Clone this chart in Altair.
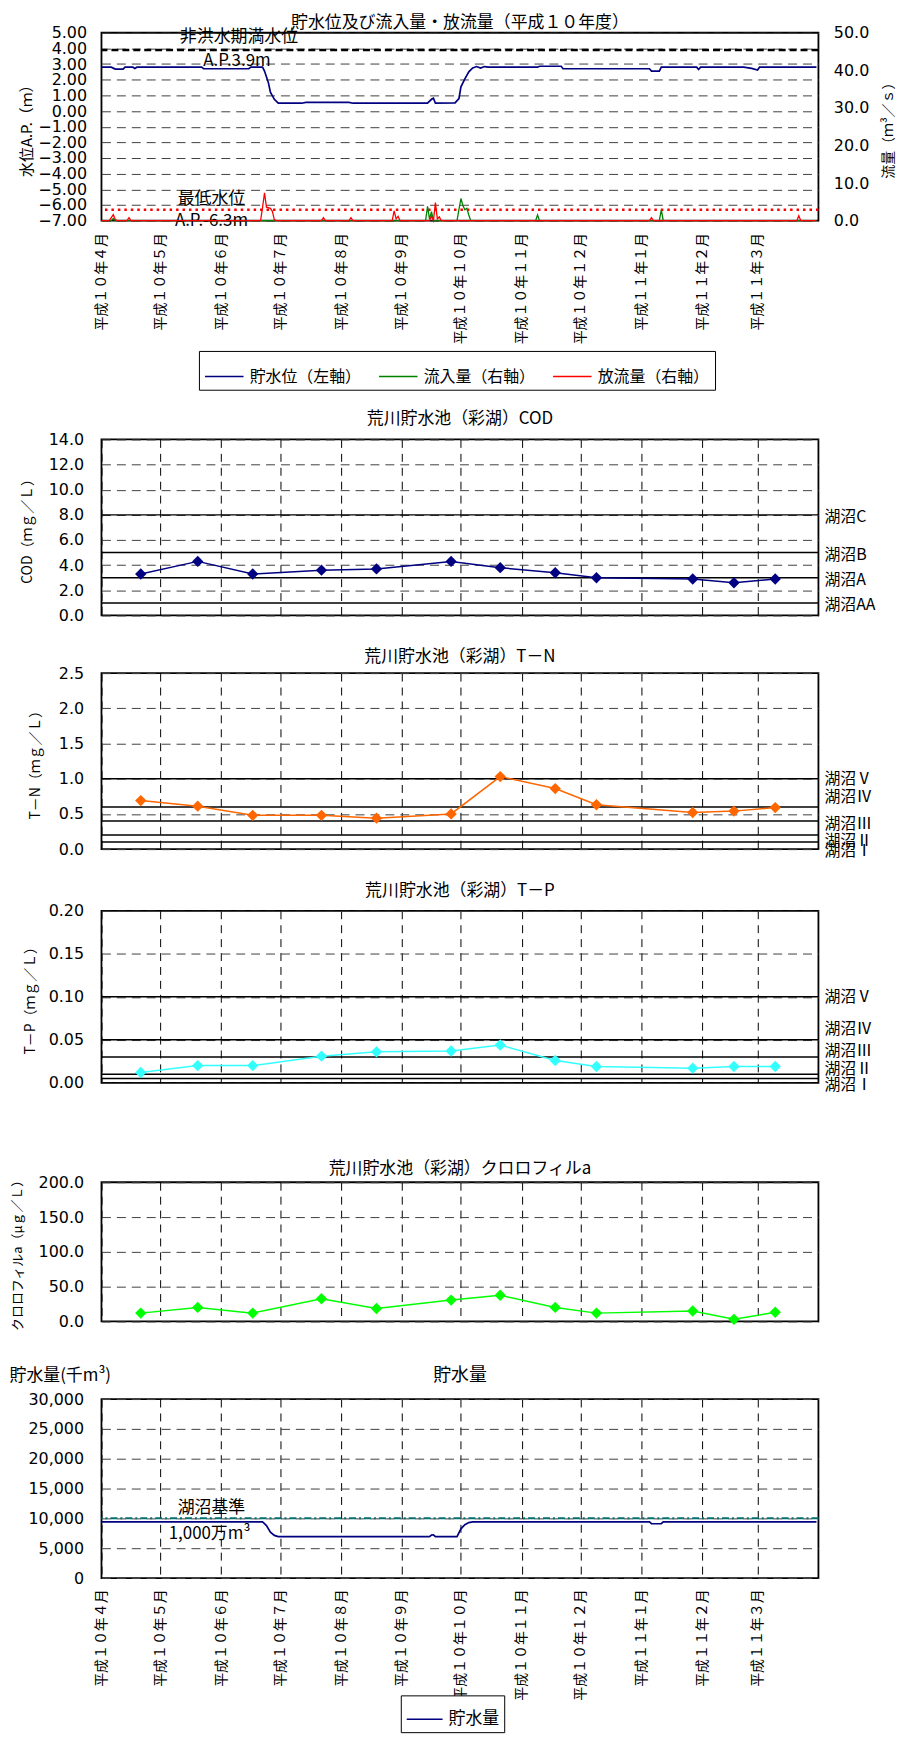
import altair as alt
import pandas as pd

FONT = "Noto Sans CJK JP"
NUM = "DejaVu Sans"

# ---------------- data ----------------
START = "1998-04-01"
MONTH_STARTS = ["1998-04-01", "1998-05-01", "1998-06-01", "1998-07-01", "1998-08-01", "1998-09-01",
                "1998-10-01", "1998-11-01", "1998-12-01", "1999-01-01", "1999-02-01", "1999-03-01"]
MONTH_LABELS = ["平成１０年４月", "平成１０年５月", "平成１０年６月", "平成１０年７月", "平成１０年８月",
                "平成１０年９月", "平成１０年１０月", "平成１０年１１月", "平成１０年１２月",
                "平成１１年１月", "平成１１年２月", "平成１１年３月"]

# water level (A.P. m)
WATER_LEVEL = [
    ("1998-04-01", 2.80), ("1998-04-06", 2.80), ("1998-04-08", 2.68), ("1998-04-12", 2.68),
    ("1998-04-13", 2.80), ("1998-04-17", 2.80), ("1998-04-18", 2.72), ("1998-04-19", 2.80),
    ("1998-05-22", 2.80), ("1998-05-23", 2.70), ("1998-06-15", 2.70), ("1998-06-16", 2.80),
    ("1998-06-22", 2.80), ("1998-06-23", 2.55), ("1998-06-25", 1.80), ("1998-06-26", 1.20),
    ("1998-06-28", 0.75), ("1998-06-30", 0.50), ("1998-07-12", 0.50), ("1998-07-14", 0.55),
    ("1998-08-05", 0.55), ("1998-08-07", 0.50), ("1998-09-14", 0.50), ("1998-09-16", 0.75),
    ("1998-09-17", 0.82), ("1998-09-18", 0.50), ("1998-09-28", 0.52), ("1998-09-30", 0.80),
    ("1998-10-01", 1.55), ("1998-10-03", 2.05), ("1998-10-05", 2.50), ("1998-10-07", 2.75),
    ("1998-10-09", 2.84), ("1998-10-11", 2.74), ("1998-10-13", 2.84), ("1998-10-15", 2.80),
    ("1998-11-09", 2.80), ("1998-11-10", 2.86), ("1998-11-21", 2.86), ("1998-11-22", 2.70),
    ("1999-01-05", 2.70), ("1999-01-06", 2.55), ("1999-01-10", 2.55), ("1999-01-11", 2.80),
    ("1999-01-29", 2.80), ("1999-01-30", 2.65), ("1999-01-31", 2.80), ("1999-02-22", 2.80),
    ("1999-02-26", 2.72), ("1999-03-01", 2.62), ("1999-03-02", 2.80), ("1999-03-31", 2.80),
]
# inflow (m3/s)
INFLOW = [
    ("1998-04-01", 0), ("1998-04-06", 0), ("1998-04-07", 0.6), ("1998-04-08", 0),
    ("1998-09-13", 0), ("1998-09-14", 3.8), ("1998-09-15", 0.4), ("1998-09-16", 2.4),
    ("1998-09-17", 0), ("1998-09-29", 0), ("1998-09-30", 3.0), ("1998-10-01", 5.9),
    ("1998-10-02", 4.0), ("1998-10-03", 2.9), ("1998-10-04", 3.3), ("1998-10-05", 1.5),
    ("1998-10-06", 0), ("1998-11-08", 0), ("1998-11-09", 1.5), ("1998-11-10", 0),
    ("1999-01-10", 0), ("1999-01-11", 2.9), ("1999-01-12", 0), ("1999-03-31", 0),
]
# outflow (m3/s)
OUTFLOW = [
    ("1998-04-01", 0), ("1998-04-05", 0), ("1998-04-07", 1.6), ("1998-04-08", 0.4),
    ("1998-04-09", 0), ("1998-04-14", 0), ("1998-04-15", 0.8), ("1998-04-16", 0),
    ("1998-06-21", 0), ("1998-06-22", 3.5), ("1998-06-23", 7.4), ("1998-06-24", 3.6),
    ("1998-06-26", 3.3), ("1998-06-27", 2.5), ("1998-06-28", 0.3), ("1998-06-29", 0),
    ("1998-07-22", 0), ("1998-07-23", 0.8), ("1998-07-24", 0), ("1998-08-05", 0),
    ("1998-08-06", 0.8), ("1998-08-07", 0), ("1998-08-27", 0), ("1998-08-28", 2.6),
    ("1998-08-29", 0.5), ("1998-08-30", 1.2), ("1998-08-31", 0), ("1998-09-15", 0),
    ("1998-09-16", 1.2), ("1998-09-17", 0), ("1998-09-18", 4.8), ("1998-09-19", 0.5),
    ("1998-09-20", 1.0), ("1998-09-21", 0), ("1999-01-05", 0), ("1999-01-06", 0.8),
    ("1999-01-07", 0), ("1999-03-21", 0), ("1999-03-22", 1.3), ("1999-03-23", 0),
    ("1999-03-31", 0),
]
# storage (thousand m3)
STORAGE = [
    ("1998-04-01", 9400), ("1998-06-22", 9400), ("1998-06-24", 8800), ("1998-06-26", 7700),
    ("1998-06-28", 7150), ("1998-06-30", 6950), ("1998-09-15", 6950), ("1998-09-16", 7200),
    ("1998-09-17", 7250), ("1998-09-18", 6950), ("1998-09-29", 6950), ("1998-10-01", 8250),
    ("1998-10-03", 8950), ("1998-10-05", 9300), ("1998-10-07", 9400), ("1999-01-05", 9400),
    ("1999-01-06", 9100), ("1999-01-11", 9100), ("1999-01-12", 9400), ("1999-03-31", 9400),
]

SAMPLE_DATES = ["1998-04-21", "1998-05-20", "1998-06-17", "1998-07-22", "1998-08-19", "1998-09-26",
                "1998-10-21", "1998-11-18", "1998-12-09", "1999-01-27", "1999-02-17", "1999-03-10"]
COD = [3.3, 4.3, 3.3, 3.6, 3.7, 4.3, 3.8, 3.4, 3.0, 2.9, 2.6, 2.9]
TN = [0.69, 0.61, 0.48, 0.48, 0.44, 0.50, 1.03, 0.86, 0.63, 0.52, 0.54, 0.59]
TP = [0.012, 0.020, 0.020, 0.031, 0.036, 0.037, 0.044, 0.026, 0.019, 0.017, 0.019, 0.019]
CHLA = [12.0, 20.2, 12.0, 32.6, 18.6, 30.7, 37.7, 20.2, 12.0, 15.1, 3.1, 13.2]

FULL_LEVEL = 3.9
MIN_LEVEL = -6.3
LEVEL_NOTES = ["非洪水期満水位", "A.P.3.9m", "最低水位", "A.P.-6.3m"]
LEVEL_NOTE_DATES = ["1998-06-10", "1998-06-09", "1998-05-27", "1998-05-27"]
LEVEL_NOTE_Y = [4.72, 3.20, -5.60, -7.03]

COD_STD = [8.0, 5.0, 3.0, 1.0]
COD_STD_LABELS = ["湖沼C", "湖沼B", "湖沼A", "湖沼AA"]
COD_LABEL_Y = [7.85, 4.8, 2.85, 0.85]
TN_STD = [1.0, 0.6, 0.4, 0.2, 0.1]
TN_STD_LABELS = ["湖沼Ⅴ", "湖沼Ⅳ", "湖沼Ⅲ", "湖沼Ⅱ", "湖沼Ⅰ"]
TN_LABEL_Y = [1.0, 0.74, 0.36, 0.12, -0.02]
TP_STD = [0.1, 0.05, 0.03, 0.01, 0.005]
TP_STD_LABELS = ["湖沼Ⅴ", "湖沼Ⅳ", "湖沼Ⅲ", "湖沼Ⅱ", "湖沼Ⅰ"]
TP_LABEL_Y = [0.1, 0.062, 0.037, 0.016, -0.002]

LAKE_STD = 10000
STORAGE_NOTES = ["湖沼基準", "1,000万m³"]
STORAGE_NOTE_DATES = ["1998-05-27", "1998-05-26"]
STORAGE_NOTE_Y = [11670, 7420]

LEG1 = ["貯水位（左軸）", "流入量（右軸）", "放流量（右軸）"]
COL1 = ["#000080", "#008000", "#FF0000"]
LEG6 = ["貯水量"]

# ---------------- layout ----------------
W = 721
H1, H2, H3, H4, H5, H6 = 189, 177, 177, 173, 140, 180
GAPS = [220, 58, 62, 100, 78]
VIEW = alt.ViewBackground(stroke="black", strokeWidth=1.8)


def days(dates):
    s = pd.to_datetime(pd.Series(list(dates)))
    return (s - pd.Timestamp(START)).dt.days.tolist()


MONTH_DAYS = days(MONTH_STARTS)
LABEL_EXPR = ("[" + ",".join("'%s'" % s for s in MONTH_LABELS) + "][indexof(["
              + ",".join(str(d) for d in MONTH_DAYS) + "], datum.value)]")
XS = alt.Scale(domain=[0, 365], nice=False, zero=False)


def x_enc(labels, grid, pad=12):
    kw = dict(values=MONTH_DAYS, ticks=False, tickSize=0, domain=False, title=None,
              grid=grid, labels=labels)
    if grid:
        kw.update(gridDash=[8, 6], gridColor="#000000", gridWidth=1)
    if labels:
        kw.update(labelExpr=LABEL_EXPR, labelAngle=270, labelFont=FONT, labelFontSize=14,
                  labelPadding=pad, labelOverlap=False, labelFlush=False, labelBound=False,
                  labelColor="black", labelLimit=0)
    return alt.X("d:Q", scale=XS, axis=alt.Axis(**kw))


def y_axis(values, fmt, title, title_x, height, title_size=14, label_pad=18, **extra):
    kw = dict(values=values, format=fmt, title=title, ticks=False, tickSize=0, domain=False,
              grid=True, gridDash=[9, 6], gridColor="#404040", gridWidth=1,
              labelFont=NUM, labelFontSize=16, labelColor="black", labelPadding=label_pad,
              labelOverlap=False, labelFlush=False, labelBound=False,
              titleFont=FONT, titleFontSize=title_size, titleFontWeight="normal",
              titleColor="black", titleAngle=270, titleBaseline="middle", titleAlign="center",
              titleX=title_x, titleY=height / 2)
    kw.update(extra)
    return alt.Axis(**kw)


def title(text, offset, size=17):
    return alt.TitleParams(text=text, font=FONT, fontSize=size, fontWeight="normal", color="black",
                           anchor="middle", frame="group", baseline="middle", offset=offset)


# ---------------- panel 1: water level and flows ----------------
x1 = x_enc(True, False, pad=12)
ys1 = alt.Scale(domain=[-7, 5], nice=False, zero=False)
y1 = alt.Y("v:Q", scale=ys1, axis=y_axis(list(range(-7, 6)), ".2f", "水位A.P.（ｍ）", -75, H1,
                                          title_size=15, label_pad=15))
color1 = alt.Color("s:N", scale=alt.Scale(domain=LEG1, range=COL1),
                   legend=alt.Legend(orient="none", legendX=98, legendY=320, direction="horizontal",
                                     title=None, labelFont=FONT, labelFontSize=16, labelColor="black",
                                     symbolType="stroke", symbolSize=1500, symbolStrokeWidth=1.5,
                                     strokeColor="black", fillColor="white", padding=5,
                                     columnPadding=14, labelLimit=0, labelOffset=5))

wl_df = pd.DataFrame({"d": days(d for d, _ in WATER_LEVEL), "v": [v for _, v in WATER_LEVEL],
                      "s": LEG1[0]})
in_df = pd.DataFrame({"d": days(d for d, _ in INFLOW), "q": [v for _, v in INFLOW], "s": LEG1[1]})
out_df = pd.DataFrame({"d": days(d for d, _ in OUTFLOW), "q": [v for _, v in OUTFLOW], "s": LEG1[2]})

wl_line = alt.Chart(wl_df).mark_line(strokeWidth=1.7).encode(x=x1, y=y1, color=color1)
full_rule = alt.Chart(pd.DataFrame({"v": [FULL_LEVEL]})).mark_rule(
    color="black", strokeWidth=2.5, strokeDash=[7, 4]).encode(y=y1)
min_rule = alt.Chart(pd.DataFrame({"v": [MIN_LEVEL]})).mark_rule(
    color="#FF0000", strokeWidth=2.5, strokeDash=[2.5, 4]).encode(y=y1)
notes1 = alt.Chart(pd.DataFrame({"d": days(LEVEL_NOTE_DATES), "v": LEVEL_NOTE_Y, "t": LEVEL_NOTES})).mark_text(
    font=FONT, fontSize=17, color="black", align="center", baseline="middle").encode(
    x=x1, y=y1, text="t:N")

ys1r = alt.Scale(domain=[0, 50], nice=False, zero=True)
y1r = alt.Y("q:Q", scale=ys1r, axis=alt.Axis(
    orient="right", values=[0, 10, 20, 30, 40, 50], format=".1f", title="流量（ｍ³／ｓ）",
    ticks=False, tickSize=0, domain=False, grid=False, labelFont=NUM, labelFontSize=16,
    labelColor="black", labelPadding=15, labelOverlap=False, labelFlush=False, labelBound=False,
    titleFont=FONT, titleFontSize=14, titleFontWeight="normal", titleColor="black",
    titleAngle=270, titleBaseline="middle", titleAlign="center", titleX=70, titleY=H1 / 2))
in_line = alt.Chart(in_df).mark_line(strokeWidth=1.3).encode(x=x1, y=y1r, color=color1)
out_line = alt.Chart(out_df).mark_line(strokeWidth=1.3).encode(x=x1, y=y1r, color=color1)

p1 = alt.layer(
    alt.layer(wl_line, full_rule, min_rule, notes1),
    alt.layer(in_line, out_line),
).resolve_scale(y="independent").properties(
    width=W, height=H1, view=VIEW,
    title=title("貯水位及び流入量・放流量（平成１０年度）", -15))


# ---------------- water quality panels ----------------
def wq_panel(vals, color, domain, ticks, fmt, ytitle, title_x, height, ttext, toffset,
             std=None, std_labels=None, std_y=None, ytitle_size=14):
    ys = alt.Scale(domain=domain, nice=False, zero=False)
    y = alt.Y("v:Q", scale=ys, axis=y_axis(ticks, fmt, ytitle, title_x, height, title_size=ytitle_size))
    x = x_enc(False, True)
    df = pd.DataFrame({"d": days(SAMPLE_DATES), "v": vals})
    layers = []
    if std is not None:
        sdf = pd.DataFrame({"v": std})
        layers.append(alt.Chart(sdf).mark_rule(color="black", strokeWidth=1.5).encode(y=y))
        ldf = pd.DataFrame({"v": std_y, "t": std_labels})
        layers.append(alt.Chart(ldf).mark_text(font=FONT, fontSize=16, color="black", align="left",
                                               baseline="middle").encode(
            x=alt.value(W + 6), y=y, text="t:N"))
    layers.append(alt.Chart(df).mark_line(color=color, strokeWidth=1.5).encode(x=x, y=y))
    layers.append(alt.Chart(df).mark_point(shape="diamond", filled=True, size=130, opacity=1,
                                           color=color).encode(x=x, y=y))
    return alt.layer(*layers).properties(width=W, height=height, view=VIEW,
                                         title=title(ttext, toffset))


p2 = wq_panel(COD, "#000080", [0, 14], list(range(0, 15, 2)), ".1f", "COD（ｍｇ／Ｌ）", -74, H2,
              "荒川貯水池（彩湖）COD", -4, COD_STD, COD_STD_LABELS, COD_LABEL_Y)
p3 = wq_panel(TN, "#FF6600", [0, 2.5], [0, 0.5, 1.0, 1.5, 2.0, 2.5], ".1f", "T－N（ｍｇ／Ｌ）", -66, H3,
              "荒川貯水池（彩湖）T－N", -9, TN_STD, TN_STD_LABELS, TN_LABEL_Y)
p4 = wq_panel(TP, "#33FFFF", [0, 0.2], [0, 0.05, 0.1, 0.15, 0.2], ".2f", "T－P（ｍｇ／Ｌ）", -71, H4,
              "荒川貯水池（彩湖）T－P", -5, TP_STD, TP_STD_LABELS, TP_LABEL_Y)
p5 = wq_panel(CHLA, "#00FF00", [0, 200], [0, 50, 100, 150, 200], ".1f", "クロロフィルa（μｇ／Ｌ）", -84, H5,
              "荒川貯水池（彩湖）クロロフィルa", -13, ytitle_size=13)

# ---------------- panel 6: storage ----------------
x6 = x_enc(True, True, pad=11)
ys6 = alt.Scale(domain=[0, 30000], nice=False, zero=True)
y6 = alt.Y("v:Q", scale=ys6, axis=y_axis(list(range(0, 30001, 5000)), ",d", "貯水量(千m³)", -93, H6,
                                          title_size=17, titleAngle=0, titleAlign="left",
                                          titleY=-24))
color6 = alt.Color("s:N", scale=alt.Scale(domain=LEG6, range=["#000080"]),
                   legend=alt.Legend(orient="none", legendX=301, legendY=298, title=None,
                                     labelFont=FONT, labelFontSize=17, labelColor="black",
                                     symbolType="stroke", symbolSize=1300, symbolStrokeWidth=1.5,
                                     strokeColor="black", fillColor="white", padding=5,
                                     labelLimit=0, labelOffset=5))
st_df = pd.DataFrame({"d": days(d for d, _ in STORAGE), "v": [v for _, v in STORAGE], "s": LEG6[0]})
st_line = alt.Chart(st_df).mark_line(strokeWidth=1.7).encode(x=x6, y=y6, color=color6)
std_rule6 = alt.Chart(pd.DataFrame({"v": [LAKE_STD]})).mark_rule(
    color="#007070", strokeWidth=2, strokeDash=[7, 3, 2, 3]).encode(y=y6)
notes6 = alt.Chart(pd.DataFrame({"d": days(STORAGE_NOTE_DATES), "v": STORAGE_NOTE_Y, "t": STORAGE_NOTES})).mark_text(
    font=FONT, fontSize=17, color="black", align="center", baseline="middle").encode(
    x=x6, y=y6, text="t:N")
p6 = alt.layer(std_rule6, notes6, st_line).properties(
    width=W, height=H6, view=VIEW, title=title("貯水量", -28, size=18))


def spacer(h):
    return alt.Chart(pd.DataFrame({"z": [0]})).mark_point(opacity=0).encode(
        opacity=alt.value(0)).properties(width=W, height=h)


chart = alt.vconcat(
    p1, spacer(GAPS[0]), p2, spacer(GAPS[1]), p3, spacer(GAPS[2]), p4, spacer(GAPS[3]),
    p5, spacer(GAPS[4]), p6, spacing=0, bounds="flush",
).resolve_scale(x="independent", y="independent", color="independent").properties(
    padding=0
).configure_view(stroke="transparent")

chart.save("out.html", embed_options={"renderer": "svg", "actions": False})
